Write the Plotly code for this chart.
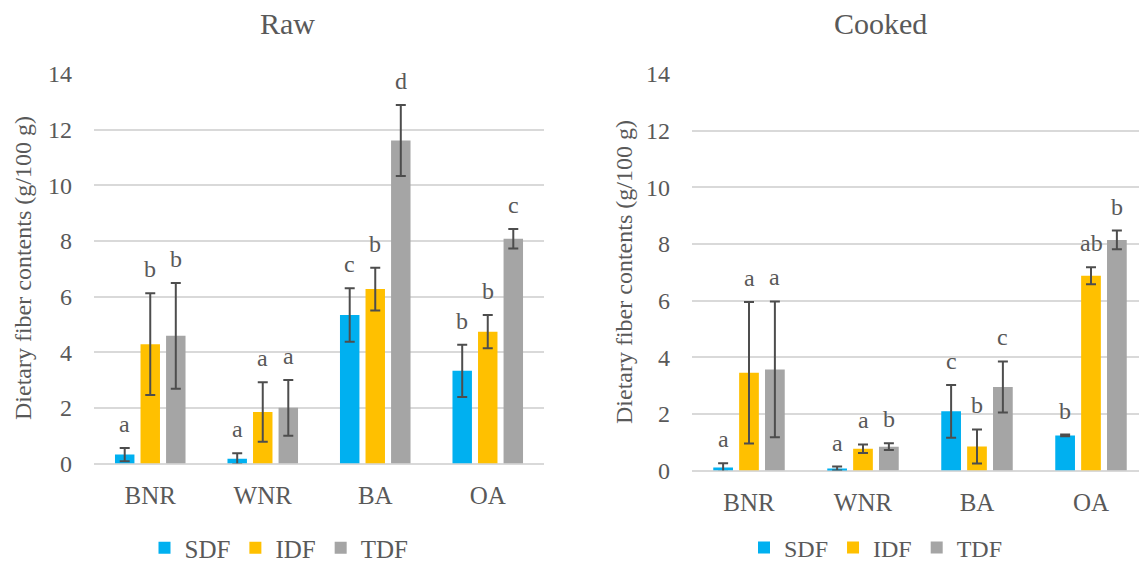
import plotly.graph_objects as go
import numpy as np

categories = ["BNR", "WNR", "BA", "OA"]
series = ["SDF", "IDF", "TDF"]
colors = ["#00B0F0", "#FFC000", "#A5A5A5"]

raw_sdf = [0.32, 0.17, 5.34, 3.33]
raw_idf = [4.29, 1.85, 6.27, 4.74]
raw_tdf = [4.59, 2.00, 11.61, 8.08]
raw_sdf_err = [0.24, 0.20, 0.96, 0.94]
raw_idf_err = [1.83, 1.07, 0.77, 0.60]
raw_tdf_err = [1.90, 1.00, 1.28, 0.35]
raw_sdf_let = ["a", "a", "c", "b"]
raw_idf_let = ["b", "a", "b", "b"]
raw_tdf_let = ["b", "a", "d", "c"]

cooked_sdf = [0.11, 0.07, 2.09, 1.24]
cooked_idf = [3.45, 0.77, 0.85, 6.88]
cooked_tdf = [3.57, 0.84, 2.95, 8.14]
cooked_sdf_err = [0.15, 0.07, 0.93, 0.03]
cooked_idf_err = [2.50, 0.15, 0.60, 0.30]
cooked_tdf_err = [2.40, 0.12, 0.90, 0.33]
cooked_sdf_let = ["a", "a", "c", "b"]
cooked_idf_let = ["a", "a", "b", "ab"]
cooked_tdf_let = ["a", "b", "c", "b"]

FONT = "Liberation Serif, Times New Roman, serif"
TXT = "#595959"
GRID = "#D9D9D9"

bar_w = 0.173
slot = 0.227
offsets = [-slot, 0.0, slot]

fig = go.Figure()
annotations = []

panels = [
    ("x", "y", "legend", [raw_sdf, raw_idf, raw_tdf],
     [raw_sdf_err, raw_idf_err, raw_tdf_err],
     [raw_sdf_let, raw_idf_let, raw_tdf_let]),
    ("x2", "y2", "legend2", [cooked_sdf, cooked_idf, cooked_tdf],
     [cooked_sdf_err, cooked_idf_err, cooked_tdf_err],
     [cooked_sdf_let, cooked_idf_let, cooked_tdf_let]),
]

idx = np.arange(len(categories))
for xa, ya, lg, vals, errs, lets in panels:
    for k, name in enumerate(series):
        xs = idx + offsets[k]
        fig.add_trace(go.Bar(
            x=xs, y=vals[k], width=bar_w, name=name,
            marker=dict(color=colors[k], line=dict(width=0)),
            error_y=dict(type="data", array=errs[k], visible=True,
                         color="#4D4D4D", thickness=2, width=5),
            xaxis=xa, yaxis=ya, legend=lg, showlegend=True,
            hoverinfo="skip",
        ))
        for j in range(len(categories)):
            annotations.append(dict(
                x=xs[j], y=vals[k][j] + errs[k][j], xref=xa, yref=ya,
                text=lets[k][j], showarrow=False, yanchor="bottom",
                yshift=9, font=dict(family=FONT, size=24, color=TXT)))

# titles and axis titles
for text, xp in [("Raw", 287 / 1139), ("Cooked", 880 / 1139)]:
    annotations.append(dict(x=xp, y=1 - 24 / 561, xref="paper", yref="paper",
                            text=text, showarrow=False, xanchor="center", yanchor="middle",
                            font=dict(family=FONT, size=30, color=TXT)))
for xp, yp in [(23 / 1139, 1 - 268 / 561), (624 / 1139, 1 - 272 / 561)]:
    annotations.append(dict(x=xp, y=yp, xref="paper", yref="paper",
                            text="Dietary fiber contents (g/100 g)", textangle=-90,
                            showarrow=False, xanchor="center", yanchor="middle",
                            font=dict(family=FONT, size=24, color=TXT)))

yax = dict(range=[0, 14], dtick=2, showgrid=True, gridcolor=GRID, gridwidth=1.8,
           zeroline=True, zerolinecolor=GRID, zerolinewidth=1.8, showline=False,
           tickfont=dict(family=FONT, size=24, color=TXT), ticks="",
           ticklabelstandoff=21, fixedrange=True)
xax = dict(tickvals=list(idx), ticktext=categories, showgrid=False, zeroline=False,
           showline=False, ticks="", tickfont=dict(family=FONT, size=25, color=TXT),
           ticklabelstandoff=14, fixedrange=True)

fig.update_layout(
    width=1139, height=561,
    font=dict(family=FONT, color=TXT),
    margin=dict(l=0, r=0, t=0, b=0, autoexpand=False),
    paper_bgcolor="white", plot_bgcolor="white",
    barmode="overlay",
    xaxis=dict(xax, domain=[94 / 1139, 544 / 1139], range=[-0.5, 3.5], anchor="y"),
    yaxis=dict(yax, domain=[1 - 463.5 / 561, 1 - 74 / 561], anchor="x"),
    xaxis2=dict(xax, domain=[692 / 1139, 1.0], range=[-0.5, -0.5 + 447 / 114], anchor="y2"),
    yaxis2=dict(yax, domain=[1 - 470.5 / 561, 1 - 74 / 561], anchor="x2"),
    legend=dict(orientation="h", x=279 / 1139, y=1 - 548 / 561, xanchor="center",
                yanchor="middle", font=dict(family=FONT, size=25, color=TXT),
                itemwidth=30, tracegroupgap=0, bgcolor="rgba(0,0,0,0)"),
    legend2=dict(orientation="h", x=876 / 1139, y=1 - 548 / 561, xanchor="center",
                 yanchor="middle", font=dict(family=FONT, size=24, color=TXT),
                 itemwidth=30, tracegroupgap=0, bgcolor="rgba(0,0,0,0)"),
    annotations=annotations,
    showlegend=True,
)

fig.write_html("out.html", config={"displayModeBar": False},
               post_script="document.body.style.margin='0px';document.body.style.overflow='hidden';")
